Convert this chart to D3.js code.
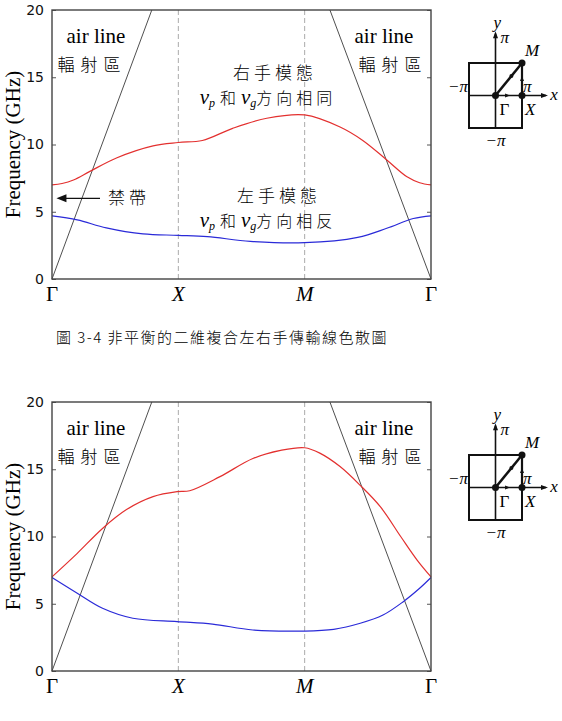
<!DOCTYPE html>
<html>
<head>
<meta charset="utf-8">
<script src="https://cdn.jsdelivr.net/npm/d3@7"></script>
<style>
body { margin: 0; background: #fff; }
</style>
</head>
<body>
<div class="chart"></div>
<script>
// symmetry points along the path, and y ticks
const kLabels = ["Γ", "X", "M", "Γ"];
const yTicks = [0, 5, 10, 15, 20];

// top chart (unbalanced): k position in segments (0..3) and frequency (GHz)
const topRedK = [0, 0.08, 0.17, 0.3, 0.51, 0.8, 1.0, 1.19, 1.43, 1.7, 2.0, 2.28, 2.46, 2.65, 2.81, 2.91, 3.0];
const topRedF = [7.0, 7.1, 7.36, 8.0, 9.0, 9.9, 10.15, 10.3, 11.2, 11.95, 12.2, 11.3, 10.3, 8.85, 7.6, 7.16, 7.0];
const topBlueK = [0, 0.2, 0.43, 0.72, 1.0, 1.23, 1.57, 2.0, 2.42, 2.65, 2.86, 3.0];
const topBlueF = [4.7, 4.4, 3.8, 3.35, 3.25, 3.15, 2.8, 2.7, 3.1, 3.77, 4.5, 4.7];

// bottom chart (balanced)
const botRedK = [0, 0.2, 0.4, 0.59, 0.8, 0.99, 1.09, 1.33, 1.59, 1.81, 2.0, 2.12, 2.28, 2.44, 2.6, 2.76, 2.89, 3.0];
const botRedF = [7.0, 8.75, 10.6, 12.0, 12.96, 13.33, 13.4, 14.45, 15.8, 16.4, 16.6, 16.2, 15.2, 13.8, 12.2, 10.0, 8.25, 7.0];
const botBlueK = [0, 0.2, 0.4, 0.64, 0.99, 1.27, 1.59, 2.0, 2.23, 2.44, 2.62, 2.78, 2.91, 3.0];
const botBlueF = [6.95, 5.78, 4.66, 3.92, 3.67, 3.49, 3.05, 2.97, 3.1, 3.55, 4.16, 5.15, 6.15, 6.95];

// light lines
const airLeftK = [0, 0.79], airLeftF = [0, 20];
const airRightK = [2.2, 3], airRightF = [20, 0];

const W = 562, H = 721;
const plotH = 269;
const serif = "'Liberation Serif', 'DejaVu Serif', serif";
const cjk = "'Noto Sans CJK TC', 'Noto Sans CJK SC', sans-serif";

var svg = d3.select(".chart").append("svg")
    .attr("width", W)
    .attr("height", H);

var xScale = d3.scaleLinear().domain([0, 3]).range([52, 431]);
var yScale = d3.scaleLinear().domain([0, 20]).range([plotH, 0]);

const line = d3.line()
    .curve(d3.curveCatmullRom.alpha(0.5))
    .x(d => xScale(d[0]))
    .y(d => yScale(d[1]));

const straight = d3.line()
    .x(d => xScale(d[0]))
    .y(d => yScale(d[1]));

function zip(a, b) { return a.map((v, i) => [v, b[i]]); }

function chart(top, redK, redF, blueK, blueF) {
    const g = svg.append("g").attr("transform", `translate(0,${top})`);

    // dashed lines at X and M
    g.selectAll(".vline")
        .data([1, 2])
        .join("line")
        .attr("x1", d => xScale(d)).attr("x2", d => xScale(d))
        .attr("y1", 0).attr("y2", plotH)
        .attr("stroke", "#aaa")
        .attr("stroke-width", 1)
        .attr("stroke-dasharray", "5,3");

    // light lines
    g.append("path")
        .attr("d", straight(zip(airLeftK, airLeftF)))
        .attr("fill", "none").attr("stroke", "#222").attr("stroke-width", 0.8);
    g.append("path")
        .attr("d", straight(zip(airRightK, airRightF)))
        .attr("fill", "none").attr("stroke", "#222").attr("stroke-width", 0.8);

    // bands
    g.append("path")
        .attr("d", line(zip(redK, redF)))
        .attr("fill", "none").attr("stroke", "#e3302f").attr("stroke-width", 1.2);
    g.append("path")
        .attr("d", line(zip(blueK, blueF)))
        .attr("fill", "none").attr("stroke", "#2a2ad8").attr("stroke-width", 1.2);

    // y axis, ticks inside
    var yAxis = d3.axisLeft(yScale).tickValues(yTicks).tickSize(-4).tickPadding(8);
    g.append("g")
        .attr("transform", `translate(${xScale(0)},0)`)
        .call(yAxis)
        .call(a => a.select(".domain").remove())
        .call(a => a.selectAll(".tick text")
            .attr("font-family", "'DejaVu Sans', sans-serif")
            .attr("font-size", 14)
            .attr("fill", "#111"))
        .call(a => a.selectAll(".tick line").attr("stroke", "#555"));
    g.append("g")
        .attr("transform", `translate(${xScale(3)},0)`)
        .call(d3.axisRight(yScale).tickValues(yTicks).tickSize(-4).tickFormat(""))
        .call(a => a.select(".domain").remove())
        .call(a => a.selectAll(".tick line").attr("stroke", "#555"));

    // frame
    g.append("rect")
        .attr("x", xScale(0)).attr("y", 0)
        .attr("width", xScale(3) - xScale(0)).attr("height", plotH)
        .attr("fill", "none").attr("stroke", "#444").attr("stroke-width", 1.4);

    // k labels
    g.selectAll(".klabel")
        .data(kLabels)
        .join("text")
        .attr("x", (d, i) => xScale(i))
        .attr("y", plotH + 22)
        .attr("text-anchor", "middle")
        .attr("font-family", serif)
        .attr("font-size", 21)
        .attr("font-style", d => d === "Γ" ? "normal" : "italic")
        .text(d => d);

    // y label
    g.append("text")
        .attr("transform", `translate(20,${plotH / 2}) rotate(-90)`)
        .attr("text-anchor", "middle")
        .attr("font-family", serif)
        .attr("font-size", 21)
        .text("Frequency (GHz)");

    // air line labels
    [96, 384].forEach(x => {
        g.append("text")
            .attr("x", x).attr("y", 33)
            .attr("text-anchor", "middle")
            .attr("font-family", serif)
            .attr("font-size", 21)
            .text("air line");
    });
    [92, 393].forEach(x => {
        g.append("text")
            .attr("x", x).attr("y", 61)
            .attr("text-anchor", "middle")
            .attr("font-family", cjk)
            .attr("font-size", 17)
            .attr("font-weight", 300)
            .attr("letter-spacing", 6)
            .text("輻射區");
    });

    insert(g);
    return g;
}

// small Brillouin zone sketch
function insert(g) {
    var kx = d3.scaleLinear().domain([-1, 1]).range([469, 522]);
    var ky = d3.scaleLinear().domain([-1, 1]).range([118, 53]);
    const ink = "#111";

    g.append("rect")
        .attr("x", kx(-1)).attr("y", ky(1))
        .attr("width", kx(1) - kx(-1)).attr("height", ky(-1) - ky(1))
        .attr("fill", "none").attr("stroke", ink).attr("stroke-width", 2);
    g.append("line")
        .attr("x1", kx(-1)).attr("x2", kx(1.9))
        .attr("y1", ky(0)).attr("y2", ky(0))
        .attr("stroke", ink).attr("stroke-width", 1.6);
    g.append("line")
        .attr("x1", kx(0)).attr("x2", kx(0))
        .attr("y1", ky(-1)).attr("y2", ky(1.9))
        .attr("stroke", ink).attr("stroke-width", 1.6);
    // axis arrowheads
    g.append("path")
        .attr("d", `M${kx(1.98)},${ky(0)} l-7,-2.5 l0,5 z`)
        .attr("fill", ink);
    g.append("path")
        .attr("d", `M${kx(0)},${ky(1.98)} l-2.5,7 l5,0 z`)
        .attr("fill", ink);
    // path Γ-X-M-Γ
    g.append("line")
        .attr("x1", kx(0)).attr("y1", ky(0))
        .attr("x2", kx(1)).attr("y2", ky(1))
        .attr("stroke", ink).attr("stroke-width", 2.5);
    g.append("line")
        .attr("x1", kx(1)).attr("y1", ky(0))
        .attr("x2", kx(1)).attr("y2", ky(1))
        .attr("stroke", ink).attr("stroke-width", 2.2);
    g.append("path")
        .attr("d", `M${kx(0.55)},${ky(0)} l-5,-2 l0,4 z`)
        .attr("fill", ink);
    g.append("path")
        .attr("d", `M${kx(1)},${ky(0.6)} l-2,5 l4,0 z`)
        .attr("fill", ink);
    g.append("circle")
        .attr("cx", kx(0.6)).attr("cy", ky(0.6)).attr("r", 2).attr("fill", ink);
    g.selectAll(".kpt")
        .data([[0, 0], [1, 0], [1, 1]])
        .join("circle")
        .attr("cx", d => kx(d[0])).attr("cy", d => ky(d[1]))
        .attr("r", 3.5).attr("fill", ink);

    const lab = [
        [kx(0) - 2, ky(1.85) - 7, "y", "italic", "start"],
        [kx(0) + 5, ky(1.85) + 8, "π", "italic", "start"],
        [kx(1) + 3, ky(1) - 7, "M", "italic", "start"],
        [kx(-1) - 1, ky(0) - 4, "−π", "italic", "end"],
        [kx(1) + 1, ky(0) - 4, "π", "italic", "start"],
        [kx(1.95) + 3, ky(0) + 4, "x", "italic", "start"],
        [kx(0) + 4, ky(0) + 19, "Γ", "normal", "start"],
        [kx(1) + 3, ky(0) + 19, "X", "italic", "start"],
        [kx(0), ky(-1) + 18, "−π", "italic", "middle"]
    ];
    g.selectAll(".klab")
        .data(lab)
        .join("text")
        .attr("x", d => d[0]).attr("y", d => d[1])
        .attr("font-family", serif)
        .attr("font-size", 17)
        .attr("font-style", d => d[3])
        .attr("text-anchor", d => d[4])
        .text(d => d[2]);
}

function vpvg(g, x, y, tail) {
    var t = g.append("text")
        .attr("x", x).attr("y", y)
        .attr("text-anchor", "middle")
        .attr("font-size", 16);
    t.append("tspan").attr("font-family", serif).attr("font-style", "italic").attr("font-size", 21).text("v");
    t.append("tspan").attr("font-family", serif).attr("font-style", "italic").attr("font-size", 12).attr("dy", 3).text("p");
    t.append("tspan").attr("font-family", cjk).attr("font-weight", 300).attr("dy", -3).attr("dx", 5).text("和");
    t.append("tspan").attr("font-family", serif).attr("font-style", "italic").attr("font-size", 21).attr("dx", 5).text("v");
    t.append("tspan").attr("font-family", serif).attr("font-style", "italic").attr("font-size", 12).attr("dy", 3).text("g");
    t.append("tspan").attr("font-family", cjk).attr("font-weight", 300).attr("dy", -3).attr("letter-spacing", 4).text(tail);
}

var g1 = chart(10, topRedK, topRedF, topBlueK, topBlueF);

// mode labels (top chart only)
function cjkLabel(g, x, y, t) {
    g.append("text")
        .attr("x", x).attr("y", y)
        .attr("text-anchor", "middle")
        .attr("font-family", cjk)
        .attr("font-size", 17)
        .attr("font-weight", 300)
        .attr("letter-spacing", 4)
        .text(t);
}
cjkLabel(g1, 275, 69, "右手模態");
vpvg(g1, 268, 94, "方向相同");
cjkLabel(g1, 279, 192, "左手模態");
vpvg(g1, 268, 217, "方向相反");
cjkLabel(g1, 129, 194, "禁帶");

// arrow to the band gap
g1.append("line")
    .attr("x1", xScale(0.38)).attr("x2", xScale(0.08))
    .attr("y1", yScale(6)).attr("y2", yScale(6))
    .attr("stroke", "#111").attr("stroke-width", 1.2);
g1.append("path")
    .attr("d", `M${xScale(0.035)},${yScale(6)} l10,-4 l0,8 z`)
    .attr("fill", "#111");

// caption
svg.append("text")
    .attr("x", 222).attr("y", 343)
    .attr("text-anchor", "middle")
    .attr("font-family", cjk)
    .attr("font-size", 15)
    .attr("font-weight", 300)
    .attr("letter-spacing", 1.5)
    .text("圖 3-4 非平衡的二維複合左右手傳輸線色散圖");

chart(402, botRedK, botRedF, botBlueK, botBlueF);
</script>
</body>
</html>
